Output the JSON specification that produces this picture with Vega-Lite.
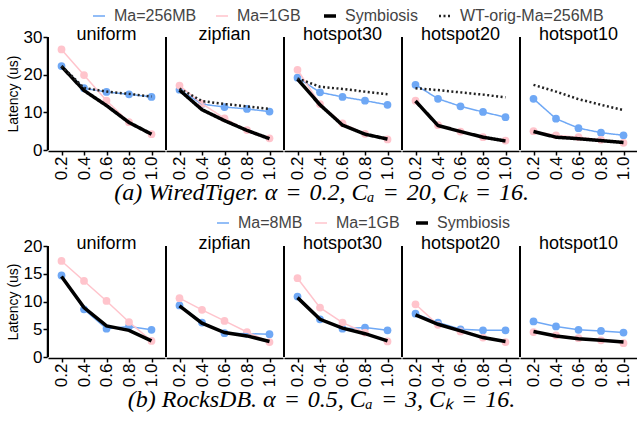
{
  "$schema": "https://vega.github.io/schema/vega-lite/v6.json",
  "padding": {"left": 6, "top": 8, "right": 0, "bottom": 0},
  "background": "white",
  "config": {
    "font": "Liberation Sans",
    "view": {"stroke": null},
    "axis": {"domainColor": "black", "domainWidth": 1.5, "tickColor": "black", "tickWidth": 1.5, "tickSize": 4, "labelColor": "black", "labelFontSize": 17, "labelPadding": 1, "labelFont": "Liberation Sans", "grid": false, "titleFont": "Liberation Sans", "titleFontWeight": "normal", "titleFontSize": 14, "titleColor": "black"},
    "legend": {"labelFontSize": 16, "labelColor": "#444", "labelFont": "Liberation Sans", "symbolType": "stroke", "symbolSize": 144, "columnPadding": 16, "symbolStrokeColor": "black", "labelOffset": 7},
    "header": {"labelFontSize": 18, "labelColor": "black", "labelFont": "Liberation Sans", "labelFontWeight": "normal"}
  },
  "vconcat": [
    {
      "data": {"values": [
        {"wl": "uniform", "a": 0.2, "s": "Ma=256MB", "v": 22.3},
        {"wl": "uniform", "a": 0.4, "s": "Ma=256MB", "v": 16.4},
        {"wl": "uniform", "a": 0.6, "s": "Ma=256MB", "v": 15.4},
        {"wl": "uniform", "a": 0.8, "s": "Ma=256MB", "v": 14.8},
        {"wl": "uniform", "a": 1.0, "s": "Ma=256MB", "v": 14.1},
        {"wl": "uniform", "a": 0.2, "s": "Ma=1GB", "v": 26.7},
        {"wl": "uniform", "a": 0.4, "s": "Ma=1GB", "v": 19.9},
        {"wl": "uniform", "a": 0.6, "s": "Ma=1GB", "v": 13.1},
        {"wl": "uniform", "a": 0.8, "s": "Ma=1GB", "v": 7.4},
        {"wl": "uniform", "a": 1.0, "s": "Ma=1GB", "v": 4.2},
        {"wl": "uniform", "a": 0.2, "s": "Symbiosis", "v": 22.2},
        {"wl": "uniform", "a": 0.4, "s": "Symbiosis", "v": 15.8},
        {"wl": "uniform", "a": 0.6, "s": "Symbiosis", "v": 11.8},
        {"wl": "uniform", "a": 0.8, "s": "Symbiosis", "v": 7.3},
        {"wl": "uniform", "a": 1.0, "s": "Symbiosis", "v": 4.2},
        {"wl": "uniform", "a": 0.2, "s": "WT-orig-Ma=256MB", "v": 22.3},
        {"wl": "uniform", "a": 0.4, "s": "WT-orig-Ma=256MB", "v": 16.5},
        {"wl": "uniform", "a": 0.6, "s": "WT-orig-Ma=256MB", "v": 15.5},
        {"wl": "uniform", "a": 0.8, "s": "WT-orig-Ma=256MB", "v": 14.9},
        {"wl": "uniform", "a": 1.0, "s": "WT-orig-Ma=256MB", "v": 14.2},
        {"wl": "zipfian", "a": 0.2, "s": "Ma=256MB", "v": 16.0},
        {"wl": "zipfian", "a": 0.4, "s": "Ma=256MB", "v": 12.2},
        {"wl": "zipfian", "a": 0.6, "s": "Ma=256MB", "v": 11.4},
        {"wl": "zipfian", "a": 0.8, "s": "Ma=256MB", "v": 10.9},
        {"wl": "zipfian", "a": 1.0, "s": "Ma=256MB", "v": 10.2},
        {"wl": "zipfian", "a": 0.2, "s": "Ma=1GB", "v": 17.1},
        {"wl": "zipfian", "a": 0.4, "s": "Ma=1GB", "v": 12.3},
        {"wl": "zipfian", "a": 0.6, "s": "Ma=1GB", "v": 8.4},
        {"wl": "zipfian", "a": 0.8, "s": "Ma=1GB", "v": 5.3},
        {"wl": "zipfian", "a": 1.0, "s": "Ma=1GB", "v": 3.1},
        {"wl": "zipfian", "a": 0.2, "s": "Symbiosis", "v": 15.9},
        {"wl": "zipfian", "a": 0.4, "s": "Symbiosis", "v": 10.7},
        {"wl": "zipfian", "a": 0.6, "s": "Symbiosis", "v": 7.8},
        {"wl": "zipfian", "a": 0.8, "s": "Symbiosis", "v": 5.2},
        {"wl": "zipfian", "a": 1.0, "s": "Symbiosis", "v": 3.0},
        {"wl": "zipfian", "a": 0.2, "s": "WT-orig-Ma=256MB", "v": 16.3},
        {"wl": "zipfian", "a": 0.4, "s": "WT-orig-Ma=256MB", "v": 13.0},
        {"wl": "zipfian", "a": 0.6, "s": "WT-orig-Ma=256MB", "v": 12.2},
        {"wl": "zipfian", "a": 0.8, "s": "WT-orig-Ma=256MB", "v": 11.6},
        {"wl": "zipfian", "a": 1.0, "s": "WT-orig-Ma=256MB", "v": 10.9},
        {"wl": "hotspot30", "a": 0.2, "s": "Ma=256MB", "v": 19.2},
        {"wl": "hotspot30", "a": 0.4, "s": "Ma=256MB", "v": 15.3},
        {"wl": "hotspot30", "a": 0.6, "s": "Ma=256MB", "v": 14.1},
        {"wl": "hotspot30", "a": 0.8, "s": "Ma=256MB", "v": 13.1},
        {"wl": "hotspot30", "a": 1.0, "s": "Ma=256MB", "v": 12.0},
        {"wl": "hotspot30", "a": 0.2, "s": "Ma=1GB", "v": 21.3},
        {"wl": "hotspot30", "a": 0.4, "s": "Ma=1GB", "v": 12.2},
        {"wl": "hotspot30", "a": 0.6, "s": "Ma=1GB", "v": 7.1},
        {"wl": "hotspot30", "a": 0.8, "s": "Ma=1GB", "v": 4.3},
        {"wl": "hotspot30", "a": 1.0, "s": "Ma=1GB", "v": 2.8},
        {"wl": "hotspot30", "a": 0.2, "s": "Symbiosis", "v": 18.8},
        {"wl": "hotspot30", "a": 0.4, "s": "Symbiosis", "v": 12.0},
        {"wl": "hotspot30", "a": 0.6, "s": "Symbiosis", "v": 6.6},
        {"wl": "hotspot30", "a": 0.8, "s": "Symbiosis", "v": 4.2},
        {"wl": "hotspot30", "a": 1.0, "s": "Symbiosis", "v": 2.9},
        {"wl": "hotspot30", "a": 0.2, "s": "WT-orig-Ma=256MB", "v": 19.0},
        {"wl": "hotspot30", "a": 0.4, "s": "WT-orig-Ma=256MB", "v": 16.8},
        {"wl": "hotspot30", "a": 0.6, "s": "WT-orig-Ma=256MB", "v": 16.2},
        {"wl": "hotspot30", "a": 0.8, "s": "WT-orig-Ma=256MB", "v": 15.5},
        {"wl": "hotspot30", "a": 1.0, "s": "WT-orig-Ma=256MB", "v": 14.8},
        {"wl": "hotspot20", "a": 0.2, "s": "Ma=256MB", "v": 17.3},
        {"wl": "hotspot20", "a": 0.4, "s": "Ma=256MB", "v": 13.6},
        {"wl": "hotspot20", "a": 0.6, "s": "Ma=256MB", "v": 11.6},
        {"wl": "hotspot20", "a": 0.8, "s": "Ma=256MB", "v": 10.1},
        {"wl": "hotspot20", "a": 1.0, "s": "Ma=256MB", "v": 8.7},
        {"wl": "hotspot20", "a": 0.2, "s": "Ma=1GB", "v": 13.1},
        {"wl": "hotspot20", "a": 0.4, "s": "Ma=1GB", "v": 6.6},
        {"wl": "hotspot20", "a": 0.6, "s": "Ma=1GB", "v": 4.9},
        {"wl": "hotspot20", "a": 0.8, "s": "Ma=1GB", "v": 3.4},
        {"wl": "hotspot20", "a": 1.0, "s": "Ma=1GB", "v": 2.5},
        {"wl": "hotspot20", "a": 0.2, "s": "Symbiosis", "v": 13.0},
        {"wl": "hotspot20", "a": 0.4, "s": "Symbiosis", "v": 6.5},
        {"wl": "hotspot20", "a": 0.6, "s": "Symbiosis", "v": 4.9},
        {"wl": "hotspot20", "a": 0.8, "s": "Symbiosis", "v": 3.4},
        {"wl": "hotspot20", "a": 1.0, "s": "Symbiosis", "v": 2.4},
        {"wl": "hotspot20", "a": 0.2, "s": "WT-orig-Ma=256MB", "v": 16.4},
        {"wl": "hotspot20", "a": 0.4, "s": "WT-orig-Ma=256MB", "v": 15.9},
        {"wl": "hotspot20", "a": 0.6, "s": "WT-orig-Ma=256MB", "v": 15.3},
        {"wl": "hotspot20", "a": 0.8, "s": "WT-orig-Ma=256MB", "v": 14.7},
        {"wl": "hotspot20", "a": 1.0, "s": "WT-orig-Ma=256MB", "v": 14.0},
        {"wl": "hotspot10", "a": 0.2, "s": "Ma=256MB", "v": 13.6},
        {"wl": "hotspot10", "a": 0.4, "s": "Ma=256MB", "v": 8.3},
        {"wl": "hotspot10", "a": 0.6, "s": "Ma=256MB", "v": 5.8},
        {"wl": "hotspot10", "a": 0.8, "s": "Ma=256MB", "v": 4.6},
        {"wl": "hotspot10", "a": 1.0, "s": "Ma=256MB", "v": 3.9},
        {"wl": "hotspot10", "a": 0.2, "s": "Ma=1GB", "v": 5.0},
        {"wl": "hotspot10", "a": 0.4, "s": "Ma=1GB", "v": 3.9},
        {"wl": "hotspot10", "a": 0.6, "s": "Ma=1GB", "v": 3.4},
        {"wl": "hotspot10", "a": 0.8, "s": "Ma=1GB", "v": 2.7},
        {"wl": "hotspot10", "a": 1.0, "s": "Ma=1GB", "v": 1.9},
        {"wl": "hotspot10", "a": 0.2, "s": "Symbiosis", "v": 4.9},
        {"wl": "hotspot10", "a": 0.4, "s": "Symbiosis", "v": 3.4},
        {"wl": "hotspot10", "a": 0.6, "s": "Symbiosis", "v": 3.0},
        {"wl": "hotspot10", "a": 0.8, "s": "Symbiosis", "v": 2.5},
        {"wl": "hotspot10", "a": 1.0, "s": "Symbiosis", "v": 2.0},
        {"wl": "hotspot10", "a": 0.2, "s": "WT-orig-Ma=256MB", "v": 17.3},
        {"wl": "hotspot10", "a": 0.4, "s": "WT-orig-Ma=256MB", "v": 15.5},
        {"wl": "hotspot10", "a": 0.6, "s": "WT-orig-Ma=256MB", "v": 13.5},
        {"wl": "hotspot10", "a": 0.8, "s": "WT-orig-Ma=256MB", "v": 12.0},
        {"wl": "hotspot10", "a": 1.0, "s": "WT-orig-Ma=256MB", "v": 10.6}
      ]},
      "title": {"text": "(a) WiredTiger. α\u2004=\u20040.2, Cₐ\u2004=\u200420, Cₖ\u2004=\u200416.", "orient": "bottom", "anchor": "middle", "font": "Liberation Serif", "fontStyle": "italic", "fontWeight": "normal", "fontSize": 24, "color": "black", "offset": 1},
      "facet": {"column": {"field": "wl", "type": "nominal", "sort": ["uniform", "zipfian", "hotspot30", "hotspot20", "hotspot10"], "header": {"title": null, "labelPadding": -8}}},
      "spacing": 0,
      "spec": {
        "width": 117,
        "height": 113,
        "encoding": {
          "x": {"field": "a", "type": "quantitative", "scale": {"domain": [0.08, 1.12], "nice": false, "zero": false}, "axis": {"values": [0.2, 0.4, 0.6, 0.8, 1.0], "format": ".1f", "labelAngle": -90, "title": null}},
          "y": {"field": "v", "type": "quantitative", "scale": {"domain": [0, 30], "nice": false}, "axis": {"values": [0, 10, 20, 30], "title": "Latency (us)", "titlePadding": 3}}
        },
        "layer": [
          {"mark": {"type": "rule", "color": "black", "strokeWidth": 1.5}, "encoding": {"x": {"datum": 0.08}, "y": null}},
          {
            "transform": [{"filter": "datum.s == 'Ma=256MB' || datum.s == 'Ma=1GB'"}],
            "mark": {"type": "point", "filled": true, "opacity": 1, "size": 60},
            "encoding": {"fill": {"field": "s", "type": "nominal", "scale": {"domain": ["Ma=256MB", "Ma=1GB"], "range": ["#6fa8f5", "#ffc4cc"]}, "legend": null}}
          },
          {
            "mark": {"type": "line"},
            "encoding": {
              "color": {"field": "s", "type": "nominal", "title": null, "scale": {"domain": ["Ma=256MB", "Ma=1GB", "Symbiosis", "WT-orig-Ma=256MB"], "range": ["#6fa8f5", "#ffc4cc", "black", "#222222"]}, "legend": {"orient": "none", "direction": "horizontal", "legendX": 43, "legendY": -29}},
              "strokeDash": {"field": "s", "type": "nominal", "title": null, "scale": {"domain": ["Ma=256MB", "Ma=1GB", "Symbiosis", "WT-orig-Ma=256MB"], "range": [[1, 0], [1, 0], [1, 0], [2, 2.5]]}},
              "strokeWidth": {"field": "s", "type": "nominal", "title": null, "scale": {"type": "ordinal", "domain": ["Ma=256MB", "Ma=1GB", "Symbiosis", "WT-orig-Ma=256MB"], "range": [1.5, 1.5, 3.5, 2.5]}},
              "order": {"field": "a", "type": "quantitative"}
            }
          }
        ]
      }
    },
    {
      "data": {"values": [
        {"wl": "uniform", "a": 0.2, "s": "Ma=8MB", "v": 14.7},
        {"wl": "uniform", "a": 0.4, "s": "Ma=8MB", "v": 8.6},
        {"wl": "uniform", "a": 0.6, "s": "Ma=8MB", "v": 5.1},
        {"wl": "uniform", "a": 0.8, "s": "Ma=8MB", "v": 5.5},
        {"wl": "uniform", "a": 1.0, "s": "Ma=8MB", "v": 4.9},
        {"wl": "uniform", "a": 0.2, "s": "Ma=1GB", "v": 17.3},
        {"wl": "uniform", "a": 0.4, "s": "Ma=1GB", "v": 13.7},
        {"wl": "uniform", "a": 0.6, "s": "Ma=1GB", "v": 10.1},
        {"wl": "uniform", "a": 0.8, "s": "Ma=1GB", "v": 6.3},
        {"wl": "uniform", "a": 1.0, "s": "Ma=1GB", "v": 2.9},
        {"wl": "uniform", "a": 0.2, "s": "Symbiosis", "v": 14.5},
        {"wl": "uniform", "a": 0.4, "s": "Symbiosis", "v": 8.9},
        {"wl": "uniform", "a": 0.6, "s": "Symbiosis", "v": 5.6},
        {"wl": "uniform", "a": 0.8, "s": "Symbiosis", "v": 4.8},
        {"wl": "uniform", "a": 1.0, "s": "Symbiosis", "v": 2.9},
        {"wl": "zipfian", "a": 0.2, "s": "Ma=8MB", "v": 9.3},
        {"wl": "zipfian", "a": 0.4, "s": "Ma=8MB", "v": 6.2},
        {"wl": "zipfian", "a": 0.6, "s": "Ma=8MB", "v": 4.3},
        {"wl": "zipfian", "a": 0.8, "s": "Ma=8MB", "v": 4.2},
        {"wl": "zipfian", "a": 1.0, "s": "Ma=8MB", "v": 4.1},
        {"wl": "zipfian", "a": 0.2, "s": "Ma=1GB", "v": 10.6},
        {"wl": "zipfian", "a": 0.4, "s": "Ma=1GB", "v": 8.5},
        {"wl": "zipfian", "a": 0.6, "s": "Ma=1GB", "v": 6.5},
        {"wl": "zipfian", "a": 0.8, "s": "Ma=1GB", "v": 4.5},
        {"wl": "zipfian", "a": 1.0, "s": "Ma=1GB", "v": 2.7},
        {"wl": "zipfian", "a": 0.2, "s": "Symbiosis", "v": 9.2},
        {"wl": "zipfian", "a": 0.4, "s": "Symbiosis", "v": 6.1},
        {"wl": "zipfian", "a": 0.6, "s": "Symbiosis", "v": 4.4},
        {"wl": "zipfian", "a": 0.8, "s": "Symbiosis", "v": 3.8},
        {"wl": "zipfian", "a": 1.0, "s": "Symbiosis", "v": 2.8},
        {"wl": "hotspot30", "a": 0.2, "s": "Ma=8MB", "v": 10.9},
        {"wl": "hotspot30", "a": 0.4, "s": "Ma=8MB", "v": 6.8},
        {"wl": "hotspot30", "a": 0.6, "s": "Ma=8MB", "v": 5.1},
        {"wl": "hotspot30", "a": 0.8, "s": "Ma=8MB", "v": 5.3},
        {"wl": "hotspot30", "a": 1.0, "s": "Ma=8MB", "v": 4.8},
        {"wl": "hotspot30", "a": 0.2, "s": "Ma=1GB", "v": 14.2},
        {"wl": "hotspot30", "a": 0.4, "s": "Ma=1GB", "v": 8.9},
        {"wl": "hotspot30", "a": 0.6, "s": "Ma=1GB", "v": 6.2},
        {"wl": "hotspot30", "a": 0.8, "s": "Ma=1GB", "v": 4.4},
        {"wl": "hotspot30", "a": 1.0, "s": "Ma=1GB", "v": 2.8},
        {"wl": "hotspot30", "a": 0.2, "s": "Symbiosis", "v": 10.7},
        {"wl": "hotspot30", "a": 0.4, "s": "Symbiosis", "v": 6.8},
        {"wl": "hotspot30", "a": 0.6, "s": "Symbiosis", "v": 5.2},
        {"wl": "hotspot30", "a": 0.8, "s": "Symbiosis", "v": 4.2},
        {"wl": "hotspot30", "a": 1.0, "s": "Symbiosis", "v": 2.9},
        {"wl": "hotspot20", "a": 0.2, "s": "Ma=8MB", "v": 7.8},
        {"wl": "hotspot20", "a": 0.4, "s": "Ma=8MB", "v": 6.2},
        {"wl": "hotspot20", "a": 0.6, "s": "Ma=8MB", "v": 5.0},
        {"wl": "hotspot20", "a": 0.8, "s": "Ma=8MB", "v": 4.8},
        {"wl": "hotspot20", "a": 1.0, "s": "Ma=8MB", "v": 4.8},
        {"wl": "hotspot20", "a": 0.2, "s": "Ma=1GB", "v": 9.5},
        {"wl": "hotspot20", "a": 0.4, "s": "Ma=1GB", "v": 5.8},
        {"wl": "hotspot20", "a": 0.6, "s": "Ma=1GB", "v": 4.6},
        {"wl": "hotspot20", "a": 0.8, "s": "Ma=1GB", "v": 3.5},
        {"wl": "hotspot20", "a": 1.0, "s": "Ma=1GB", "v": 2.7},
        {"wl": "hotspot20", "a": 0.2, "s": "Symbiosis", "v": 7.6},
        {"wl": "hotspot20", "a": 0.4, "s": "Symbiosis", "v": 5.9},
        {"wl": "hotspot20", "a": 0.6, "s": "Symbiosis", "v": 4.7},
        {"wl": "hotspot20", "a": 0.8, "s": "Symbiosis", "v": 3.5},
        {"wl": "hotspot20", "a": 1.0, "s": "Symbiosis", "v": 2.8},
        {"wl": "hotspot10", "a": 0.2, "s": "Ma=8MB", "v": 6.4},
        {"wl": "hotspot10", "a": 0.4, "s": "Ma=8MB", "v": 5.5},
        {"wl": "hotspot10", "a": 0.6, "s": "Ma=8MB", "v": 4.9},
        {"wl": "hotspot10", "a": 0.8, "s": "Ma=8MB", "v": 4.7},
        {"wl": "hotspot10", "a": 1.0, "s": "Ma=8MB", "v": 4.4},
        {"wl": "hotspot10", "a": 0.2, "s": "Ma=1GB", "v": 4.5},
        {"wl": "hotspot10", "a": 0.4, "s": "Ma=1GB", "v": 3.9},
        {"wl": "hotspot10", "a": 0.6, "s": "Ma=1GB", "v": 3.4},
        {"wl": "hotspot10", "a": 0.8, "s": "Ma=1GB", "v": 3.0},
        {"wl": "hotspot10", "a": 1.0, "s": "Ma=1GB", "v": 2.5},
        {"wl": "hotspot10", "a": 0.2, "s": "Symbiosis", "v": 4.6},
        {"wl": "hotspot10", "a": 0.4, "s": "Symbiosis", "v": 3.8},
        {"wl": "hotspot10", "a": 0.6, "s": "Symbiosis", "v": 3.3},
        {"wl": "hotspot10", "a": 0.8, "s": "Symbiosis", "v": 3.0},
        {"wl": "hotspot10", "a": 1.0, "s": "Symbiosis", "v": 2.7}
      ]},
      "title": {"text": "(b) RocksDB. α\u2004=\u20040.5, Cₐ\u2004=\u20043, Cₖ\u2004=\u200416.", "orient": "bottom", "anchor": "middle", "font": "Liberation Serif", "fontStyle": "italic", "fontWeight": "normal", "fontSize": 24, "color": "black", "offset": 1},
      "facet": {"column": {"field": "wl", "type": "nominal", "sort": ["uniform", "zipfian", "hotspot30", "hotspot20", "hotspot10"], "header": {"title": null, "labelPadding": -8}}},
      "spacing": 0,
      "spec": {
        "width": 117,
        "height": 111,
        "encoding": {
          "x": {"field": "a", "type": "quantitative", "scale": {"domain": [0.08, 1.12], "nice": false, "zero": false}, "axis": {"values": [0.2, 0.4, 0.6, 0.8, 1.0], "format": ".1f", "labelAngle": -90, "title": null}},
          "y": {"field": "v", "type": "quantitative", "scale": {"domain": [0, 20], "nice": false}, "axis": {"values": [0, 5, 10, 15, 20], "title": "Latency (us)", "titlePadding": 3}}
        },
        "layer": [
          {"mark": {"type": "rule", "color": "black", "strokeWidth": 1.5}, "encoding": {"x": {"datum": 0.08}, "y": null}},
          {
            "transform": [{"filter": "datum.s == 'Ma=8MB' || datum.s == 'Ma=1GB'"}],
            "mark": {"type": "point", "filled": true, "opacity": 1, "size": 60},
            "encoding": {"fill": {"field": "s", "type": "nominal", "scale": {"domain": ["Ma=8MB", "Ma=1GB"], "range": ["#6fa8f5", "#ffc4cc"]}, "legend": null}}
          },
          {
            "mark": {"type": "line"},
            "encoding": {
              "color": {"field": "s", "type": "nominal", "title": null, "scale": {"domain": ["Ma=8MB", "Ma=1GB", "Symbiosis"], "range": ["#6fa8f5", "#ffc4cc", "black"]}, "legend": {"orient": "none", "direction": "horizontal", "legendX": 167, "legendY": -31, "columnPadding": 9}},
              "strokeWidth": {"field": "s", "type": "nominal", "title": null, "scale": {"type": "ordinal", "domain": ["Ma=8MB", "Ma=1GB", "Symbiosis"], "range": [1.5, 1.5, 3.5]}},
              "order": {"field": "a", "type": "quantitative"}
            }
          }
        ]
      }
    }
  ],
  "spacing": 10,
  "resolve": {"scale": {"color": "independent", "strokeDash": "independent", "strokeWidth": "independent", "fill": "independent", "x": "independent", "y": "independent"}, "legend": {"color": "independent", "strokeDash": "independent", "strokeWidth": "independent", "fill": "independent"}}
}
